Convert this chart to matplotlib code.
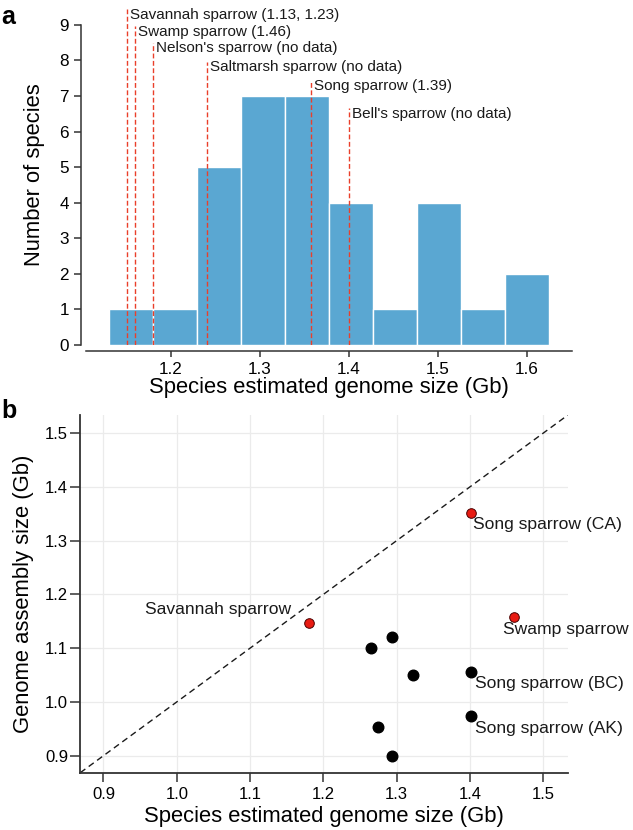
import matplotlib
matplotlib.use("Agg")
import matplotlib.pyplot as plt
import numpy as np

plt.rcParams['font.family'] = ['Liberation Sans', 'DejaVu Sans']

# panel a: histogram of estimated genome sizes
bin_edges = [1.130, 1.180, 1.229, 1.279, 1.328, 1.378, 1.427, 1.477, 1.526, 1.576, 1.625]
bin_counts = [1, 1, 5, 7, 7, 4, 1, 4, 1, 2]

marker_species = ["Savannah sparrow (1.13, 1.23)", "Swamp sparrow (1.46)",
                  "Nelson's sparrow (no data)", "Saltmarsh sparrow (no data)",
                  "Song sparrow (1.39)", "Bell's sparrow (no data)"]
marker_x = [1.150, 1.160, 1.180, 1.240, 1.357, 1.400]
marker_top = [9.45, 8.97, 8.50, 7.97, 7.45, 6.66]

# panel b: estimate vs assembly size
est_size = [1.181, 1.401, 1.460, 1.265, 1.294, 1.322, 1.401, 1.274, 1.401, 1.294]
asm_size = [1.147, 1.352, 1.157, 1.101, 1.121, 1.050, 1.055, 0.953, 0.973, 0.900]
highlight = [True, True, True, False, False, False, False, False, False, False]
point_labels = ["Savannah sparrow", "Song sparrow (CA)", "Swamp sparrow", "", "", "",
                "Song sparrow (BC)", "", "Song sparrow (AK)", ""]

W, H = 633, 830
fig = plt.figure(figsize=(W / 100, H / 100), dpi=100)

def px_axes(l, r, t, b):
    return fig.add_axes([l / W, (H - b) / H, (r - l) / W, (b - t) / H])

axis_col = '#333333'
bar_col = '#5aa7d2'
red_line = '#ea3f2a'

# ---- panel a
ax = px_axes(86, 571.7, 3.6, 345)
edges = np.array(bin_edges)
ax.bar(edges[:-1], bin_counts, width=np.diff(edges), align='edge',
       color=bar_col, edgecolor='white', linewidth=1.0, zorder=1)
ax.vlines(marker_x, 0, marker_top, colors=red_line, linewidth=1.0,
          linestyles=[(0, (3.5, 1.8))], zorder=2)
for x, top, lab in zip(marker_x, marker_top, marker_species):
    ax.annotate(lab, xy=(x, top), xytext=(2.2, 1), textcoords='offset points',
                ha='left', va='top', fontsize=11, color='#1a1a1a')
ax.set_xlim(1.1044, 1.6506)
ax.set_ylim(0, 9.6)
ax.set_xticks([1.2, 1.3, 1.4, 1.5, 1.6])
ax.set_yticks(range(10))
for s in ['top', 'right']:
    ax.spines[s].set_visible(False)
ax.spines['left'].set_position(('outward', 3.8))
ax.spines['bottom'].set_position(('outward', 4.1))
ax.spines['left'].set_bounds(0, 9)
for s in ['left', 'bottom']:
    ax.spines[s].set_color(axis_col)
    ax.spines[s].set_linewidth(1.1)
ax.tick_params(axis='y', length=5, width=1.1, color=axis_col, pad=3.5, labelsize=12.3)
ax.tick_params(axis='x', length=4.3, width=1.1, color=axis_col, pad=3.5, labelsize=12.3)
ax.set_xlabel('Species estimated genome size (Gb)', fontsize=15.8)
ax.set_ylabel('Number of species', fontsize=15.8)
ax.xaxis.set_label_coords(0.5, -0.093)
ax.yaxis.set_label_coords(-0.084, 0.5)

# ---- panel b
bx = px_axes(80, 568.3, 415, 772.7)
bx.set_xlim(0.868, 1.534)
bx.set_ylim(0.8684, 1.5335)
ticks_b = [0.9, 1.0, 1.1, 1.2, 1.3, 1.4, 1.5]
bx.set_xticks(ticks_b)
bx.set_yticks(ticks_b)
bx.set_xticklabels([f'{t:.1f}' for t in ticks_b])
bx.set_yticklabels([f'{t:.1f}' for t in ticks_b])
bx.grid(True, color='#ebebeb', linewidth=0.9, zorder=0)
bx.set_axisbelow(True)
bx.axline((1.0, 1.0), slope=1, color='#1a1a1a', linewidth=1.0,
          linestyle=(0, (4.5, 3)), zorder=2)
est = np.array(est_size)
asm = np.array(asm_size)
hl = np.array(highlight)
bx.scatter(est[~hl], asm[~hl], s=58, color='black', zorder=3)
bx.scatter(est[hl], asm[hl], s=48, color='#e81b12', edgecolor='#4a0000',
           linewidth=0.7, zorder=3)
label_offsets = {"Savannah sparrow": (-13, 9.4, 'right'),
                 "Song sparrow (CA)": (1.4, -8.9, 'left'),
                 "Swamp sparrow": (-8.1, -8.4, 'left'),
                 "Song sparrow (BC)": (3.2, -7.9, 'left'),
                 "Song sparrow (AK)": (3.2, -8.4, 'left')}
for x, y, lab in zip(est_size, asm_size, point_labels):
    if lab:
        dx, dy, ha = label_offsets[lab]
        bx.annotate(lab, xy=(x, y), xytext=(dx, dy), textcoords='offset points',
                    ha=ha, va='center', fontsize=12.6, color='#1a1a1a')
for s in ['top', 'right']:
    bx.spines[s].set_visible(False)
for s in ['left', 'bottom']:
    bx.spines[s].set_color(axis_col)
    bx.spines[s].set_linewidth(1.3)
bx.tick_params(axis='y', length=7, width=1.1, color=axis_col, pad=1.5, labelsize=12)
bx.tick_params(axis='x', length=6.5, width=1.1, color=axis_col, pad=3.5, labelsize=12)
bx.set_xlabel('Species estimated genome size (Gb)', fontsize=15.8)
bx.set_ylabel('Genome assembly size (Gb)', fontsize=15.8)
bx.xaxis.set_label_coords(0.5, -0.094)
bx.yaxis.set_label_coords(-0.094, 0.5)

fig.text(1 / W, 1 - 17 / H, 'a', fontsize=18, fontweight='bold', va='center', ha='left')
fig.text(1 / W, 1 - 411 / H, 'b', fontsize=18, fontweight='bold', va='center', ha='left')

fig.savefig('out.png', dpi=100)
